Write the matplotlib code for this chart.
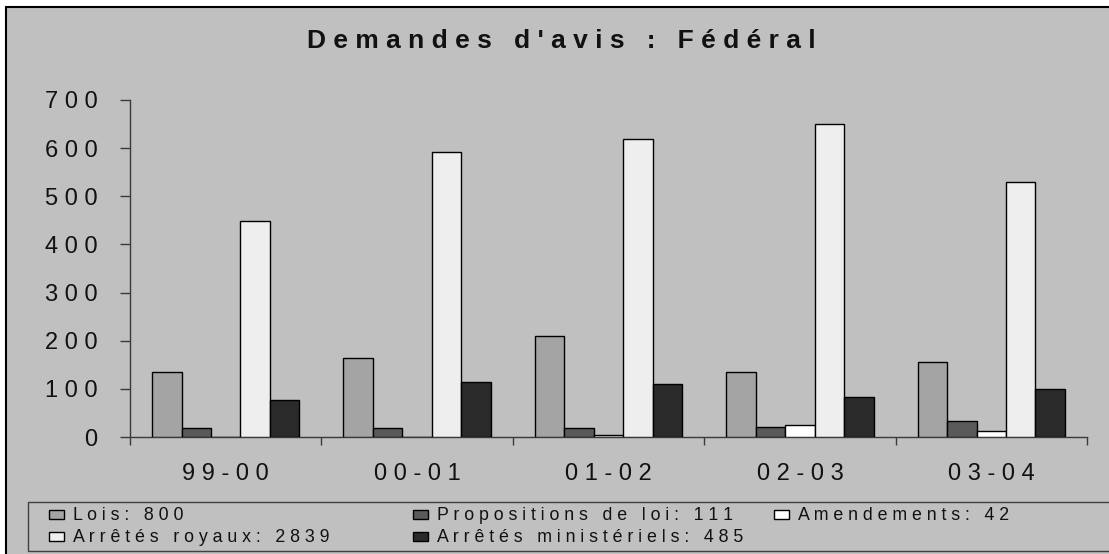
import numpy as np
import matplotlib
matplotlib.use("Agg")
import matplotlib.pyplot as plt
from matplotlib.patches import Rectangle

plt.rcParams['font.family'] = ['Liberation Sans', 'DejaVu Sans']

# data
seasons = ['99-00', '00-01', '01-02', '02-03', '03-04']
lois = [134, 164, 210, 136, 156]
propositions = [19, 19, 19, 21, 33]
amendements = [0, 0, 4, 25, 13]
arretes_royaux = [448, 591, 620, 650, 530]
arretes_ministeriels = [77, 114, 111, 84, 99]

names = ['Lois', 'Propositions de loi', 'Amendements',
         'Arrêtés royaux', 'Arrêtés ministériels']
colors = ['#A4A4A4', '#5A5A5A', '#FFFFFF', '#EEEEEE', '#2A2A2A']
series = [lois, propositions, amendements, arretes_royaux, arretes_ministeriels]

W, H = 1109, 554
BG = '#C0C0C0'


def spread(s, gap=' '):
    # fake letter spacing like the old Excel render
    return gap.join(s)


def fx(px):
    return px / W


def fy(py):
    return 1 - py / H


fig = plt.figure(figsize=(W / 100, H / 100), dpi=100, facecolor='white')

# outer chart frame (cut off at the right and bottom)
fig.add_artist(Rectangle((fx(6), -0.2), 1.5, fy(7) + 0.2, transform=fig.transFigure,
                         facecolor=BG, edgecolor='black', lw=1.5, zorder=0))

ax = fig.add_axes([fx(130), fy(437), fx(1087) - fx(130), fy(100) - fy(437)])
ax.set_facecolor('none')

n = len(series)
w = 1 / (n + 1.5)
x0 = np.arange(len(seasons)) + 0.75 * w
for i, (vals, c) in enumerate(zip(series, colors)):
    ax.bar(x0 + i * w, vals, width=w, align='edge', color=c,
           edgecolor='black', linewidth=1.0, zorder=3)

ax.set_xlim(0, len(seasons))
ax.set_ylim(0, 700)

for side in ['top', 'right']:
    ax.spines[side].set_visible(False)
for side in ['left', 'bottom']:
    ax.spines[side].set_color('#3a3a3a')
    ax.spines[side].set_linewidth(1.0)

yt = np.arange(0, 701, 100)
ax.set_yticks(yt)
ax.set_yticklabels([spread(str(v)) for v in yt], fontsize=17, color='#111111')
ax.tick_params(axis='y', length=7, width=1.0, color='#3a3a3a', pad=16.5)

ax.set_xticks(np.arange(len(seasons) + 1))
ax.set_xticklabels([])
ax.tick_params(axis='x', which='major', length=6, width=1.0, color='#3a3a3a')
ax.set_xticks(np.arange(len(seasons)) + 0.5, minor=True)
ax.set_xticklabels([spread(s) for s in seasons], minor=True, fontsize=17, color='#111111')
ax.tick_params(axis='x', which='minor', length=0, pad=19)

fig.text(fx(561), fy(47.5), spread("Demandes d'avis : Fédéral"), fontsize=19,
         fontweight='bold', ha='center', va='baseline', color='#111111')

# legend box
fig.add_artist(Rectangle((fx(28), fy(551)), 1.5, fy(502) - fy(551), transform=fig.transFigure,
                         facecolor=BG, edgecolor='#404040', lw=1.0, zorder=1))

leg_pos = [(49, 520.5), (413, 520.5), (774, 520.5), (49, 542), (413, 542)]
for (px, py), name, vals, c in zip(leg_pos, names, series, colors):
    fig.add_artist(Rectangle((fx(px), fy(py - 1.5)), fx(15), fy(0) - fy(9), transform=fig.transFigure,
                             facecolor=c, edgecolor='black', lw=1.0, zorder=2))
    fig.text(fx(px + 24), fy(py), spread(f"{name}: {sum(vals)}"),
             fontsize=12.8, ha='left', va='baseline', color='#111111', zorder=3)

fig.savefig('out.png', dpi=100, facecolor=fig.get_facecolor())
